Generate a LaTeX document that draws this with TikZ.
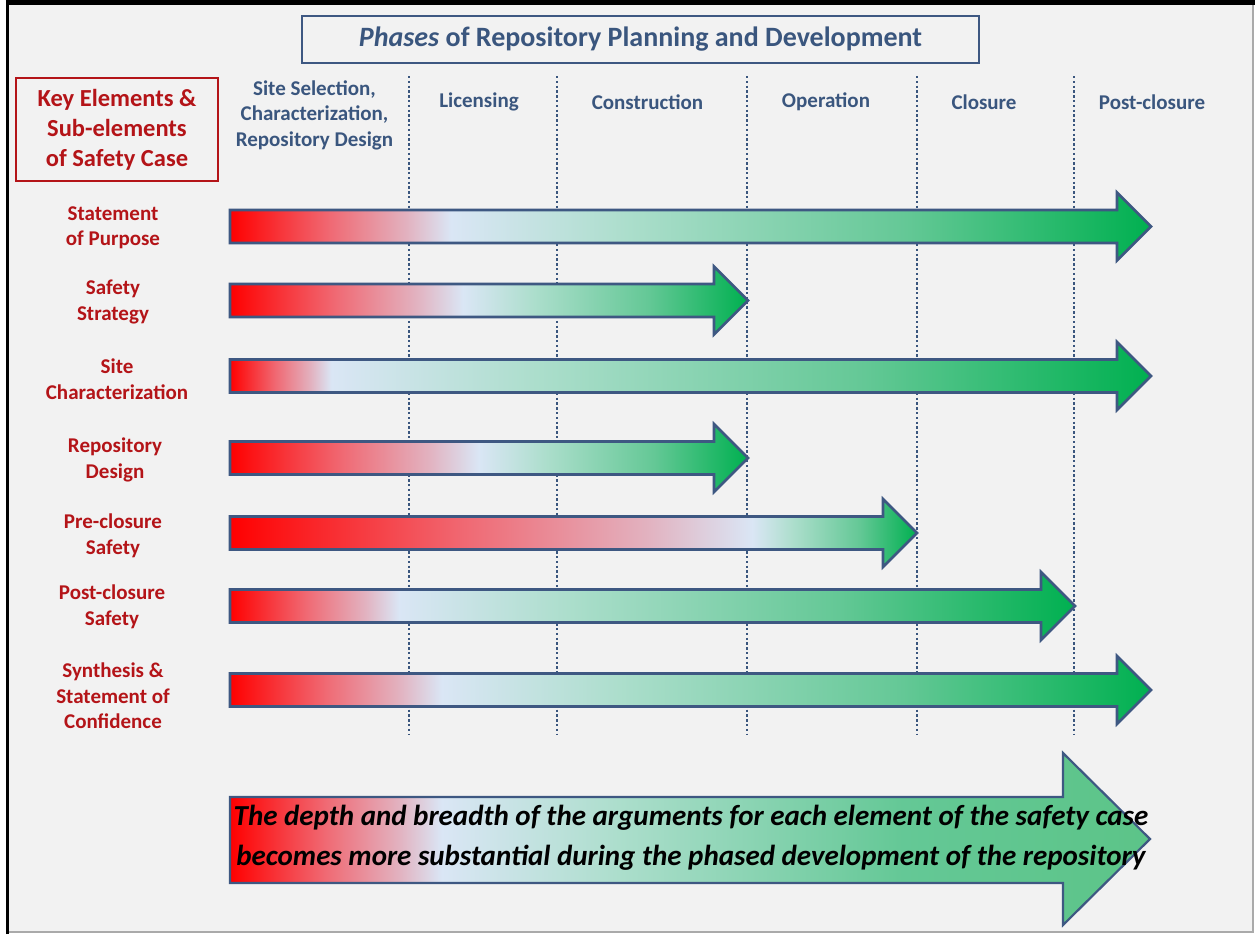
\documentclass[tikz,border=0pt]{standalone}
\usepackage{fontspec}
\setmainfont{Carlito}
\usepackage{xcolor}
\definecolor{bgGray}{RGB}{242,242,242}
\definecolor{edgeGray}{RGB}{170,170,170}
\definecolor{frameBlue}{RGB}{62,88,130}
\definecolor{phaseBlue}{RGB}{58,86,126}
\definecolor{keyRed}{RGB}{180,20,24}
\definecolor{gRed}{RGB}{255,0,0}
\definecolor{gRose}{RGB}{240,105,115}
\definecolor{gPink}{RGB}{226,178,192}
\definecolor{gWhite}{RGB}{218,230,245}
\definecolor{gTeal}{RGB}{172,222,204}
\definecolor{gMint}{RGB}{100,200,150}
\definecolor{gGreen}{RGB}{0,176,80}
\definecolor{gSoft}{RGB}{92,196,136}
\usetikzlibrary{positioning}

% horizontal shading: name, position of the pale band (0..1), end colour
\newcommand\mkshade[3]{%
  \pgfmathsetmacro\pRose{25+50*#2*0.45}%
  \pgfmathsetmacro\pPink{25+50*#2*0.8}%
  \pgfmathsetmacro\pWhite{25+50*#2}%
  \pgfmathsetmacro\pTeal{25+50*(#2+(1-#2)*0.25)}%
  \pgfmathsetmacro\pMint{25+50*(#2+(1-#2)*0.65)}%
  \edef\tmpshade{\noexpand\pgfdeclarehorizontalshading{#1}{100bp}{%
    color(0bp)=(gRed); color(25bp)=(gRed); color(\pRose bp)=(gRose);
    color(\pPink bp)=(gPink); color(\pWhite bp)=(gWhite);
    color(\pTeal bp)=(gTeal); color(\pMint bp)=(gMint);
    color(75bp)=(#3); color(100bp)=(#3)}}%
  \tmpshade}
\mkshade{shPurpose}{0.24}{gGreen}
\mkshade{shStrategy}{0.45}{gGreen}
\mkshade{shSite}{0.11}{gGreen}
\mkshade{shDesign}{0.48}{gGreen}
\mkshade{shPre}{0.76}{gGreen}
\mkshade{shPost}{0.20}{gGreen}
\mkshade{shSynth}{0.23}{gGreen}
\mkshade{shDepth}{0.23}{gSoft}

% phase arrow: centre y, tip x, shading
\newcommand\phasearrow[3]{%
  \path[bar, shading=#3] (230,{#1-16.5}) -- ({#2-34},{#1-16.5}) -- ({#2-34},{#1-34})
    -- (#2,#1) -- ({#2-34},{#1+34}) -- ({#2-34},{#1+16.5}) -- (230,{#1+16.5}) -- cycle;}

\begin{document}
\begin{tikzpicture}[x=1pt, y=-1pt,
  phase/.style={text=phaseBlue, font=\fontsize{21}{25.5}\selectfont\bfseries, align=center},
  element/.style={text=keyRed, font=\fontsize{21}{25.5}\selectfont\bfseries, align=center},
  divider/.style={phaseBlue, line width=2.6pt, dash pattern=on 2.4pt off 2.4pt},
  bar/.style={shade, draw=frameBlue, line width=2.6pt, line join=miter}]
\useasboundingbox (0,0) rectangle (1255,934);
\fill[white] (0,0) rectangle (1255,934);
\fill[bgGray] (9,5) rectangle (1253,931);
\draw[edgeGray, line width=2pt] (1253,4) -- (1253,932) -- (9,932);
\draw[black, line width=3.5pt] (7.5,934) -- (7.5,2.5);
\draw[black, line width=5pt] (5.75,2.5) -- (1255,2.5);

% title and key box
\node[draw=frameBlue, line width=1.6pt, minimum width=677, minimum height=47, text=phaseBlue,
  font=\fontsize{28}{32}\selectfont\bfseries] (title) at (640.5,39.5)
  {\textit{Phases} of Repository Planning and Development};
\node[draw=keyRed, line width=1.8pt, minimum width=202, minimum height=103, text=keyRed,
  font=\fontsize{24.5}{30}\selectfont\bfseries, align=center] (keybox) at (117,129.5)
  {Key Elements \&\\Sub-elements\\of Safety Case};

% phase columns
\foreach \x in {409,557,747,917,1074}
  \draw[divider] (\x,76) -- (\x,735);
\node[phase] (selection) at (314.5,115) {Site Selection,\\Characterization,\\Repository Design};
\node[phase] (licensing) at (479,102) {Licensing};
\node[phase] (construction) at (647.5,102) {Construction};
\node[phase] (operation) at (826,102) {Operation};
\node[phase] (closure) at (984,102) {Closure};
\node[phase] (postclosure) at (1152,102) {Post-closure};

% elements of the safety case
\node[element] (purpose) at (113,228) {Statement\\of Purpose};
\node[element] (strategy) at (113,302) {Safety\\Strategy};
\node[element] (sitechar) at (117,379) {Site\\Characterization};
\node[element] (design) at (115,460) {Repository\\Design};
\node[element] (preclosure) at (113,536) {Pre-closure\\Safety};
\node[element] (postsafety) at (112,607) {Post-closure\\Safety};
\node[element] (synthesis) at (113,696) {Synthesis \&\\Statement of\\Confidence};

\phasearrow{226.5}{1151}{shPurpose}
\phasearrow{300.5}{748}{shStrategy}
\phasearrow{376}{1151}{shSite}
\phasearrow{458}{748}{shDesign}
\phasearrow{533}{917}{shPre}
\phasearrow{606}{1075}{shPost}
\phasearrow{690}{1151}{shSynth}

% overall trend
\path[bar, line width=2.2pt, shading=shDepth] (230,797) -- (1063,797) -- (1063,753) -- (1150,839)
  -- (1063,925) -- (1063,883) -- (230,883) -- cycle;
\node[font=\fontsize{29}{40}\selectfont\bfseries\itshape, align=center] (depth) at (691,838)
  {The depth and breadth of the arguments for each element of the safety case\\
   becomes more substantial during the phased development of the repository};
\end{tikzpicture}
\end{document}
